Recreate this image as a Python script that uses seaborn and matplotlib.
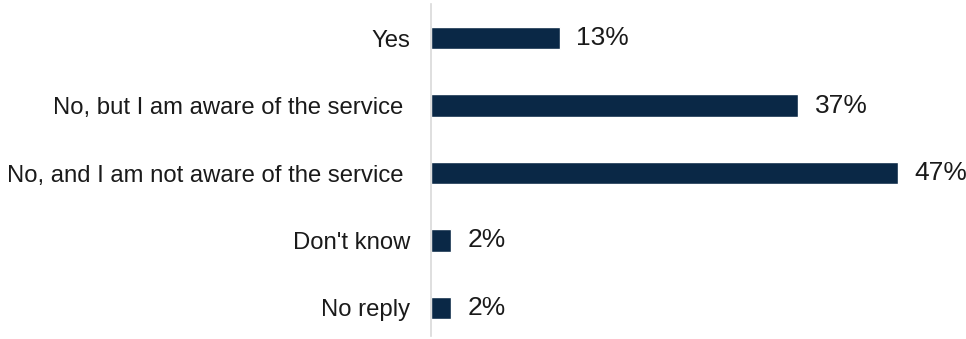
import matplotlib
matplotlib.use("Agg")
import matplotlib.pyplot as plt
import seaborn as sns
import pandas as pd

categories = ["Yes", "No, but I am aware of the service ", "No, and I am not aware of the service ", "Don't know", "No reply"]
values = [13, 37, 47, 2, 2]
labels = ["13%", "37%", "47%", "2%", "2%"]

sns.set_style("white")
plt.rcParams['font.family'] = ['Liberation Sans', 'DejaVu Sans']

df = pd.DataFrame({"cat": categories, "val": values})

W, H = 966, 339
fig = plt.figure(figsize=(W / 100, H / 100), dpi=100)
ax = fig.add_axes([431 / W, 1 - 336 / H, (W - 431) / W, 332 / H])

sns.barplot(data=df, x="val", y="cat", orient="h", color="#0A2846",
            width=0.33, ax=ax, saturation=1)

ax.set_xlim(0, 535 / 9.93)
ax.set_ylim(4.415, -0.504)
ax.set_xlabel("")
ax.set_ylabel("")
ax.set_xticks([])
for s in ["top", "right", "bottom"]:
    ax.spines[s].set_visible(False)
ax.spines["left"].set_color("#D9D9D9")
ax.spines["left"].set_linewidth(1.2)
ax.tick_params(axis="y", length=0, pad=15, labelsize=17.2, labelcolor="#1A1A1A")

for i, (v, t) in enumerate(zip(values, labels)):
    ax.text(v + 1.65, i, t, va="center", ha="left", fontsize=19, color="#1A1A1A")

fig.savefig("out.png", dpi=100)
